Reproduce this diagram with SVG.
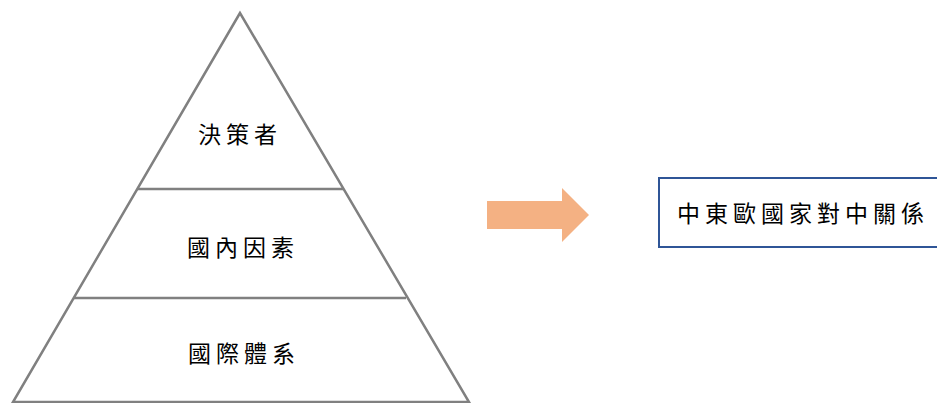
<svg xmlns="http://www.w3.org/2000/svg" width="937" height="403" viewBox="0 0 937 403">
<style>
.lbl{font-family:"Noto Sans CJK TC","Noto Sans CJK SC",sans-serif;font-size:23px;fill:#000;letter-spacing:5px}
.edge{stroke:#808080;stroke-width:2.5;fill:none}
</style>
<rect width="937" height="403" fill="#fff"/>
<g id="pyramid">
<polygon class="edge" points="240,13 13,402 469,402" stroke-linejoin="miter"/>
</g>
<g id="connectors">
<line class="edge" x1="137" y1="189" x2="343" y2="189"/>
<line class="edge" x1="74" y1="298" x2="406" y2="298"/>
<polygon id="arrow" points="487,201 562,201 562,188 589,215 562,242 562,229 487,229" fill="#F4B183"/>
</g>
<g id="node-top"><text class="lbl" x="198" y="143">決策者</text></g>
<g id="node-mid"><text class="lbl" x="187" y="256">國內因素</text></g>
<g id="node-bottom"><text class="lbl" x="188" y="362">國際體系</text></g>
<g id="node-result">
<rect x="659" y="178" width="290" height="69" fill="#fff" stroke="#2F5597" stroke-width="2"/>
<text class="lbl" x="677" y="222">中東歐國家對中關係</text>
</g>
</svg>
